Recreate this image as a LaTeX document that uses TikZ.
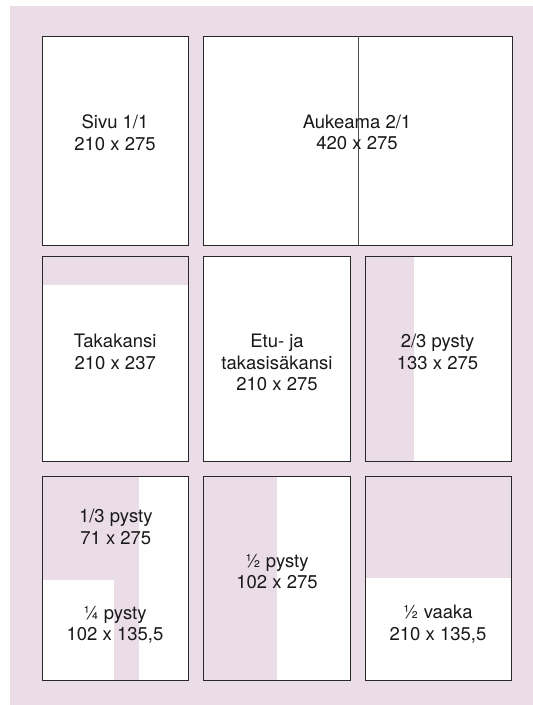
\documentclass[tikz,border=0pt]{standalone}
\usepackage{fontspec}
\setmainfont{TeX Gyre Heros}
\definecolor{bgpink}{RGB}{234,221,232}
\definecolor{edgecol}{RGB}{40,40,40}
\definecolor{foldcol}{RGB}{80,80,80}
\begin{document}
\begin{tikzpicture}[x=1pt,y=-1pt,
  page/.style={fill=white, draw=edgecol, line width=0.8pt, inner sep=0pt, outer sep=0pt, anchor=north west},
  frame/.style={draw=edgecol, line width=0.8pt},
  ad/.style={fill=bgpink},
  lbl/.style={font=\fontsize{18.5}{21.5}\selectfont, align=center, inner sep=0pt, text=black!90}]
\useasboundingbox (0,0) rectangle (533,705);
\fill[white] (0,0) rectangle (533,705);
\fill[bgpink] (10,6) rectangle (533,705);

% row 1
\node[page, minimum width=146.5, minimum height=209] (sivu) at (42,36) {};
\node[page, minimum width=309, minimum height=209] (auk) at (203.5,36) {};
% row 2
\node[page, minimum width=146.5, minimum height=204.3] (taka) at (42,256.7) {};
\node[page, minimum width=146.3, minimum height=204.3] (etu) at (203.7,256.7) {};
\node[page, minimum width=146.4, minimum height=204.3] (kaksi) at (365.3,256.7) {};
% row 3
\node[page, minimum width=146.5, minimum height=204] (kolmas) at (42,476) {};
\node[page, minimum width=146.3, minimum height=204] (puoli) at (203.7,476) {};
\node[page, minimum width=146.4, minimum height=204] (vaaka) at (365.3,476) {};

% coloured ad areas
\fill[ad] (taka.north west) rectangle ([yshift=-28.3]taka.north east);
\fill[ad] (kaksi.north west) rectangle ([xshift=48.7]kaksi.south west);
\fill[ad] (kolmas.north west) rectangle ([xshift=97,yshift=-104]kolmas.north west);
\fill[ad] ([xshift=72,yshift=-104]kolmas.north west) rectangle ([xshift=97]kolmas.south west);
\fill[ad] (puoli.north west) rectangle ([xshift=73.3]puoli.south west);
\fill[ad] (vaaka.north west) rectangle ([yshift=-101.7]vaaka.north east);

% frames
\foreach \n in {sivu,auk,taka,etu,kaksi,kolmas,puoli,vaaka}
  \draw[frame] (\n.north west) rectangle (\n.south east);
\coordinate (foldtop) at ([xshift=154.5]auk.north west);
\coordinate (foldbot) at ([xshift=154.5]auk.south west);
\draw[draw=foldcol, line width=0.8pt] (foldtop) -- (foldbot);

% labels
\node[lbl] (tsivu) at (115,132.5) {Sivu 1/1\\210 x 275};
\node[lbl] (tauk) at (357,132.5) {Aukeama 2/1\\420 x 275};
\node[lbl] (ttaka) at (115.2,352) {Takakansi\\210 x 237};
\node[lbl] (tetu) at (277,362.5) {Etu- ja\\takasisäkansi\\210 x 275};
\node[lbl] (tkaksi) at (437.5,352) {2/3 pysty\\133 x 275};
\node[lbl] (tkolmas) at (115.8,527) {1/3 pysty\\71 x 275};
\node[lbl] (tnelja) at (115,625) {¼ pysty\\102 x 135,5};
\node[lbl] (tpuoli) at (277,571.7) {½ pysty\\102 x 275};
\node[lbl] (tvaaka) at (438,624) {½ vaaka\\210 x 135,5};
\end{tikzpicture}
\end{document}
